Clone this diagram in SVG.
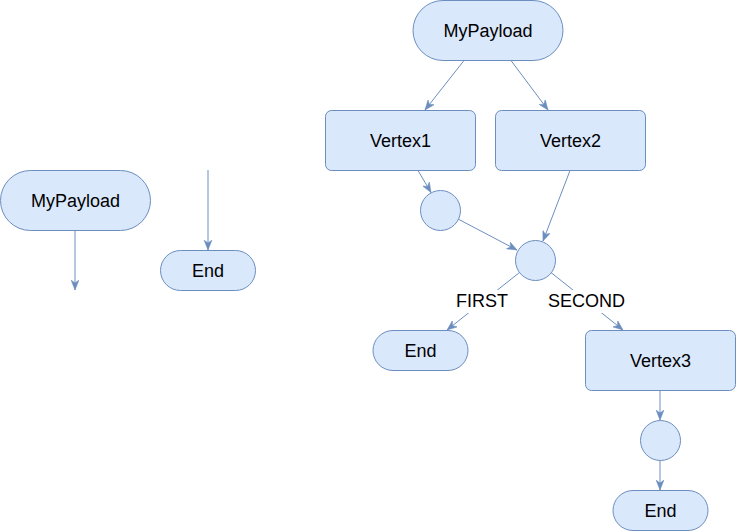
<svg xmlns="http://www.w3.org/2000/svg" width="736" height="531" viewBox="0 0 736 531">
<defs>
<style>
.n{fill:#dae8fc;stroke:#6c8ebf;stroke-width:1}
.t{font-family:"Liberation Sans",Arial,sans-serif;font-size:18px;fill:#000;text-anchor:middle;dominant-baseline:central}
.e{stroke:#6c8ebf;stroke-width:1;fill:none;marker-end:url(#arr)}
.lb{fill:#fff}
</style>
<marker id="arr" viewBox="0 0 10 8" markerWidth="10" markerHeight="8" refX="10" refY="4" orient="auto" markerUnits="userSpaceOnUse">
<path d="M0,0 L10,4 L0,8 L3,4 z" fill="#6c8ebf" stroke="#6c8ebf" stroke-width="0.5"/>
</marker>
</defs>
<rect width="736" height="531" fill="#fff"/>
<g id="connectors">
<line class="e" x1="75" y1="230.5" x2="75" y2="290"/>
<line class="e" x1="208" y1="170" x2="208" y2="250"/>
<line class="e" x1="464" y1="60.5" x2="425" y2="110"/>
<line class="e" x1="511" y1="60.5" x2="548" y2="110"/>
<line class="e" x1="418" y1="170.5" x2="431" y2="192.5"/>
<line class="e" x1="570" y1="170.5" x2="543" y2="241"/>
<line class="e" x1="458" y1="219" x2="517" y2="250"/>
<line class="e" x1="519.5" y1="272.5" x2="447" y2="330"/>
<line class="e" x1="551" y1="272.5" x2="623" y2="330"/>
<line class="e" x1="660" y1="390.5" x2="660" y2="420"/>
<line class="e" x1="660" y1="460" x2="660" y2="490"/>
<rect class="lb" x="456" y="290" width="52" height="23"/>
<text class="t" x="482" y="301">FIRST</text>
<rect class="lb" x="548" y="290" width="77" height="23"/>
<text class="t" x="586.5" y="301">SECOND</text>
</g>
<g id="payload-left"><rect class="n" x="0.5" y="170.5" width="150" height="60" rx="30" ry="30"/><text class="t" x="75.5" y="200.5">MyPayload</text></g>
<g id="end-left"><rect class="n" x="160.5" y="250.5" width="95" height="40" rx="20" ry="20"/><text class="t" x="208" y="270.5">End</text></g>
<g id="payload-top"><rect class="n" x="413" y="0.5" width="150" height="60" rx="30" ry="30"/><text class="t" x="488" y="30.5">MyPayload</text></g>
<g id="vertex1"><rect class="n" x="325.5" y="110.5" width="150" height="60" rx="6" ry="6"/><text class="t" x="400.5" y="140.5">Vertex1</text></g>
<g id="vertex2"><rect class="n" x="495.5" y="110.5" width="150" height="60" rx="6" ry="6"/><text class="t" x="570.5" y="140.5">Vertex2</text></g>
<g id="circle1"><circle class="n" cx="440.5" cy="210.5" r="20"/></g>
<g id="circle2"><circle class="n" cx="535.5" cy="260.5" r="20"/></g>
<g id="end-mid"><rect class="n" x="373" y="330.5" width="95" height="40" rx="20" ry="20"/><text class="t" x="420.5" y="350.5">End</text></g>
<g id="vertex3"><rect class="n" x="585.5" y="330.5" width="150" height="60" rx="6" ry="6"/><text class="t" x="660.5" y="360.5">Vertex3</text></g>
<g id="circle3"><circle class="n" cx="660.5" cy="440.5" r="20"/></g>
<g id="end-bottom"><rect class="n" x="613" y="490.5" width="95" height="40" rx="20" ry="20"/><text class="t" x="660.5" y="510.5">End</text></g>
</svg>
